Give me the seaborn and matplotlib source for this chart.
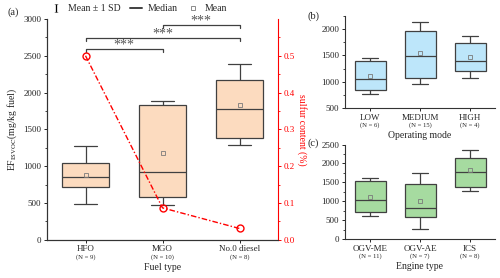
import matplotlib.pyplot as plt
import matplotlib.ticker as mticker
from matplotlib.lines import Line2D
import pandas as pd
import seaborn as sns

# Painel (a) - tipo de combustível
fuel_types = ["HFO", "MGO", "No.0 diesel"]
fuel_n = [9, 10, 8]
fuel_lo = [490, 478, 1285]
fuel_q1 = [720, 580, 1384]
fuel_med = [848, 918, 1780]
fuel_q3 = [1050, 1830, 2170]
fuel_hi = [1280, 1885, 2384]
fuel_mean = [882, 1180, 1836]
sulfur = [0.5, 0.087, 0.031]

# Painel (b) - modo de operação
mode_types = ["LOW", "MEDIUM", "HIGH"]
mode_n = [6, 15, 4]
mode_lo = [767, 964, 1067]
mode_q1 = [843, 1072, 1212]
mode_med = [1059, 1486, 1391]
mode_q3 = [1397, 1963, 1727]
mode_hi = [1454, 2141, 1868]
mode_mean = [1111, 1555, 1467]

# Painel (c) - tipo de motor
eng_types = ["OGV-ME", "OGV-AE", "ICS"]
eng_n = [11, 7, 8]
eng_lo = [609, 273, 1270]
eng_q1 = [714, 590, 1368]
eng_med = [1036, 828, 1765]
eng_q3 = [1535, 1455, 2151]
eng_hi = [1628, 1738, 2355]
eng_mean = [1125, 1013, 1826]

# significância (pares e altura do colchete)
sig_pairs = [(0, 1), (0, 2), (1, 2)]
sig_levels = [2590, 2740, 2920]

PEACH = "#FCDBBF"
BLUE = "#BDE6FA"
GREEN = "#A6DBA0"
EDGE = "#404040"
MEANC = "#7a7a7a"

sns.set_theme(style="ticks")
plt.rcParams["font.family"] = ["Liberation Serif", "DejaVu Serif"]
plt.rcParams["mathtext.fontset"] = "stix"
plt.rcParams["axes.edgecolor"] = "#333333"
plt.rcParams["axes.linewidth"] = 0.8
plt.rcParams["xtick.major.size"] = 2.5
plt.rcParams["ytick.major.size"] = 2.5
plt.rcParams["ytick.minor.size"] = 1.5
plt.rcParams["xtick.major.width"] = 0.7
plt.rcParams["ytick.major.width"] = 0.7
plt.rcParams["ytick.minor.width"] = 0.6
plt.rcParams["xtick.major.pad"] = 1.5
plt.rcParams["ytick.major.pad"] = 1.5

TICK_FS = 6.5
N_FS = 4.8
LAB_FS = 7


def long_form(cats, lo, q1, med, q3, hi):
    rows = []
    for c, *vals in zip(cats, lo, q1, med, q3, hi):
        for v in vals:
            rows.append({"cat": c, "val": v})
    return pd.DataFrame(rows)


def draw_panel(ax, cats, ns, lo, q1, med, q3, hi, means, color, xlabel):
    df = long_form(cats, lo, q1, med, q3, hi)
    sns.boxplot(
        data=df, x="cat", y="val", order=cats, whis=(0, 100), width=0.62,
        color=color, saturation=1, linecolor=EDGE, linewidth=0.9,
        showfliers=False, ax=ax,
    )
    sns.pointplot(
        x=cats, y=means, order=cats, errorbar=None, linestyle="none",
        marker="s", markersize=2.7, markerfacecolor="none",
        markeredgecolor=MEANC, markeredgewidth=0.6, color=MEANC,
        zorder=5, ax=ax,
    )
    ax.set_xlim(-0.5, len(cats) - 0.5)
    ax.set_xticks(range(len(cats)))
    ax.set_xticklabels(cats, fontsize=TICK_FS)
    ax.tick_params(axis="y", labelsize=TICK_FS)
    ax.yaxis.set_minor_locator(mticker.AutoMinorLocator(2))
    for i, n in enumerate(ns):
        ax.annotate(f"(N = {n})", xy=(i, 0), xycoords=("data", "axes fraction"),
                    xytext=(0, -12.5), textcoords="offset points",
                    ha="center", va="center", fontsize=N_FS)
    ax.set_xlabel(xlabel, fontsize=LAB_FS, labelpad=7)
    ax.set_ylabel("")
    sns.despine(ax=ax)


fig = plt.figure(figsize=(5, 2.78), dpi=100)
ax_a = fig.add_axes([0.094, 0.137, 0.462, 0.795])
ax_b = fig.add_axes([0.69, 0.6115, 0.30, 0.331])
ax_c = fig.add_axes([0.69, 0.14, 0.30, 0.34])

# ----- painel (a)
draw_panel(ax_a, fuel_types, fuel_n, fuel_lo, fuel_q1, fuel_med, fuel_q3,
           fuel_hi, fuel_mean, PEACH, "Fuel type")
ax_a.set_ylim(0, 3000)
ax_a.set_yticks(range(0, 3001, 500))
ax_a.set_ylabel(r"EF$_{\mathrm{ISVOC}}$(mg/kg fuel)", fontsize=LAB_FS, labelpad=3)

for (i, j), lvl in zip(sig_pairs, sig_levels):
    ax_a.plot([i, i, j, j], [lvl - 45, lvl, lvl, lvl - 45], color=EDGE, lw=0.9)
    ax_a.annotate("***", xy=((i + j) / 2, lvl), xytext=(0, 2.6),
                  textcoords="offset points", ha="center", va="center",
                  fontsize=10, color="#555555")

ax2 = ax_a.twinx()
sns.pointplot(
    x=fuel_types, y=sulfur, order=fuel_types, errorbar=None, color="red",
    marker="o", markersize=5, markerfacecolor="none", markeredgewidth=1,
    linestyle=(0, (4, 1.5, 1, 1.5)), linewidth=1, ax=ax2,
)
ax2.set_ylim(0, 0.6)
ax2.set_yticks([0.0, 0.1, 0.2, 0.3, 0.4, 0.5])
ax2.yaxis.set_major_formatter(mticker.FormatStrFormatter("%.1f"))
ax2.yaxis.set_minor_locator(mticker.FixedLocator([0.05, 0.15, 0.25, 0.35, 0.45, 0.55]))
ax2.tick_params(axis="y", colors="red", labelsize=TICK_FS, which="both")
ax2.tick_params(axis="y", which="minor", length=1.5)
ax2.spines["right"].set_color("red")
ax2.spines["top"].set_visible(False)
ax2.set_ylabel("sulfur content (%)", color="red", fontsize=LAB_FS,
               rotation=270, labelpad=9)
ax2.set_xlabel("")
ax_a.set_xlim(-0.5, 2.5)
ax_a.set_xticks(range(3))
ax_a.set_xticklabels(fuel_types, fontsize=TICK_FS)

# ----- painel (b)
draw_panel(ax_b, mode_types, mode_n, mode_lo, mode_q1, mode_med, mode_q3,
           mode_hi, mode_mean, BLUE, "Operating mode")
ax_b.set_ylim(500, 2250)
ax_b.set_yticks([500, 1000, 1500, 2000])

# ----- painel (c)
draw_panel(ax_c, eng_types, eng_n, eng_lo, eng_q1, eng_med, eng_q3,
           eng_hi, eng_mean, GREEN, "Engine type")
ax_c.set_ylim(0, 2500)
ax_c.set_yticks(range(0, 2501, 500))

fig.text(0.016, 0.955, "(a)", fontsize=7.5, va="center")
fig.text(0.614, 0.94, "(b)", fontsize=7.5, va="center")
fig.text(0.616, 0.486, "(c)", fontsize=7.5, va="center")

# legenda no topo
handles = [
    Line2D([0], [0], color="black", marker=r"$\mathrm{I}$", linestyle="none",
           markersize=6, markeredgewidth=0),
    Line2D([0], [0], color=EDGE, lw=1.4),
    Line2D([0], [0], color=MEANC, marker="s", linestyle="none", markersize=2.8,
           markerfacecolor="none", markeredgewidth=0.6),
]
fig.legend(handles, ["Mean ± 1 SD", "Median", "Mean"], ncol=3,
           loc="center left", bbox_to_anchor=(0.1, 0.968), frameon=False,
           fontsize=7, handlelength=1.3, handletextpad=0.5, columnspacing=1.0,
           borderaxespad=0, borderpad=0)

plt.savefig("out.png", dpi=100)
plt.close()
